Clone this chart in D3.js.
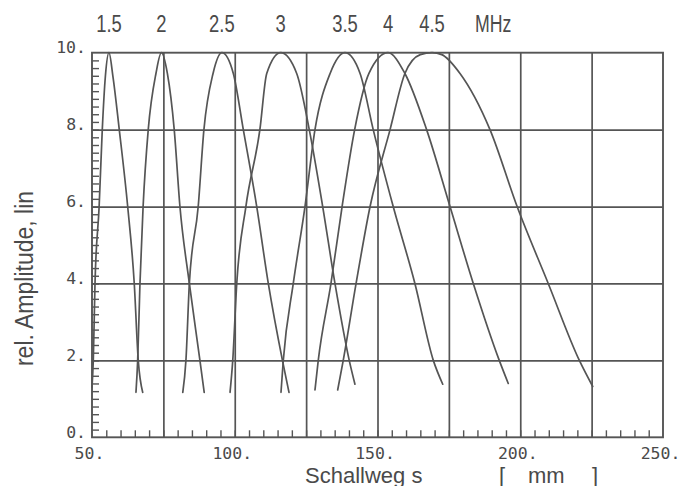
<!DOCTYPE html>
<html><head><meta charset="utf-8">
<script src="https://cdn.jsdelivr.net/npm/d3@7/dist/d3.min.js"></script>
<style>body{margin:0;background:#fff}svg{display:block}</style>
</head><body><svg id="chart" width="680" height="486"></svg>
<script>
// ---- data ----
const freqLabels = ["1.5", "2", "2.5", "3", "3.5", "4", "4.5"];
const unitLabel = "MHz";
const xTickValues = [50, 100, 150, 200, 250];
const xTickLabels = ["50.", "100.", "150.", "200.", "250."];
const yTickValues = [0, 2, 4, 6, 8, 10];
const yTickLabels = ["0.", "2.", "4.", "6.", "8.", "10."];
const yTitle = "rel. Amplitude, lin";
const xTitleParts = ["Schallweg s", "[", "mm", "]"];

// [Schallweg s in mm, rel. amplitude]
const s1_5 = [[50.0,1.3],[50.45,2.0],[51.05,4.0],[52.5,6.0],[53.6,8.0],[54.7,9.4],[55.95,10.0],[57.3,9.4],[59.55,8.0],[62.5,6.0],[64.8,4.0],[66.2,2.0],[67.75,1.17]];
const s2   = [[65.4,1.17],[66.0,2.0],[66.8,4.0],[67.9,6.0],[69.7,8.0],[72.4,9.46],[74.3,10.0],[76.4,9.46],[78.8,8.0],[80.8,6.0],[84.1,4.0],[87.8,2.0],[89.3,1.17]];
const s2_5 = [[81.8,1.17],[82.9,2.0],[84.1,4.0],[87.2,6.0],[89.2,8.0],[92.4,9.46],[95.5,10.0],[99.5,9.46],[103.0,8.0],[107.7,6.0],[111.75,4.0],[116.7,2.0],[119.0,1.17]];
const s3   = [[98.35,1.17],[99.3,2.0],[100.7,4.0],[103.9,6.0],[108.8,8.0],[111.2,9.46],[116.1,10.0],[121.7,9.46],[126.1,8.0],[130.8,6.0],[135.1,4.0],[140.1,2.0],[142.1,1.38]];
const s3_5 = [[116.2,1.17],[117.0,2.0],[120.5,4.0],[124.6,6.0],[128.1,8.0],[133.4,9.46],[138.6,10.0],[143.9,9.46],[148.5,8.0],[155.5,6.0],[163.1,4.0],[169.55,2.0],[172.85,1.38]];
const s4   = [[128.1,1.23],[129.25,2.0],[133.7,4.0],[137.6,6.0],[142.0,8.0],[147.0,9.46],[153.7,10.0],[159.6,9.46],[167.2,8.0],[175.4,6.0],[183.55,4.0],[192.65,2.0],[195.8,1.4]];
const s4_5 = [[136.05,1.23],[138.0,2.0],[142.5,4.0],[147.4,6.0],[154.4,8.0],[159.6,9.46],[165.0,9.95],[169.1,10.0],[172.5,9.95],[178.9,9.46],[189.4,8.0],[198.9,6.0],[209.8,4.0],[220.7,2.0],[225.4,1.32]];
const series = [s1_5, s2, s2_5, s3, s3_5, s4, s4_5];

// ---- layout ----
const L = 92, R = 663, T = 52.7, B = 437.3;
const ink = "#555";
const textInk = "#4a4a4a";
const x = d3.scaleLinear().domain([50, 250]).range([L, R]);
const y = d3.scaleLinear().domain([0, 10]).range([B, T]);
const svg = d3.select("#chart");
svg.append("rect").attr("width", 680).attr("height", 486).attr("fill", "#fff");

function styleAxis(g, w) {
  g.select(".domain").remove();
  g.selectAll("line").attr("stroke", ink).attr("stroke-width", w);
}

// grid lines
svg.append("g").attr("transform", `translate(0,${B})`)
  .call(d3.axisTop(x).tickValues(d3.range(75, 250, 25)).tickSize(B - T).tickFormat(""))
  .call(g => styleAxis(g, 1.7));
svg.append("g").attr("transform", `translate(${L},0)`)
  .call(d3.axisRight(y).tickValues([2, 4, 6, 8]).tickSize(R - L).tickFormat(""))
  .call(g => styleAxis(g, 1.7));

// minor ticks
svg.append("g").attr("transform", `translate(0,${B})`)
  .call(d3.axisTop(x).tickValues(d3.range(55, 250, 5)).tickSize(7).tickFormat(""))
  .call(g => styleAxis(g, 1.4));
svg.append("g").attr("transform", `translate(${L},0)`)
  .call(d3.axisRight(y).tickValues(d3.range(1, 50).map(i => i / 5)).tickSize(7).tickFormat(""))
  .call(g => styleAxis(g, 1.4));

// frame
svg.append("rect").attr("x", L).attr("y", T).attr("width", R - L).attr("height", B - T)
  .attr("fill", "none").attr("stroke", ink).attr("stroke-width", 1.9);

// tick labels
const monoFont = "'DejaVu Sans Mono', 'Liberation Mono', monospace";
svg.append("g").attr("transform", `translate(${L},0)`)
  .call(d3.axisLeft(y).tickValues(yTickValues).tickSize(0).tickPadding(6).tickFormat((d, i) => yTickLabels[i]))
  .call(g => {
    g.select(".domain").remove();
    g.selectAll("text").attr("dy", "0").attr("fill", textInk)
      .attr("font-family", monoFont).attr("font-size", 16.5);
  });
svg.append("g").attr("transform", `translate(0,${B})`)
  .call(d3.axisBottom(x).tickValues(xTickValues).tickSize(0).tickFormat((d, i) => xTickLabels[i]))
  .call(g => {
    g.select(".domain").remove();
    g.selectAll("text").attr("y", 21.5).attr("dy", "0").attr("dx", -3).attr("fill", textInk)
      .attr("font-family", monoFont).attr("font-size", 16.5);
  });

// curves
const line = d3.line().x(d => x(d[0])).y(d => y(d[1])).curve(d3.curveMonotoneX);
svg.append("g").selectAll("path").data(series).join("path")
  .attr("d", line).attr("fill", "none").attr("stroke", ink).attr("stroke-width", 1.7)
  .attr("stroke-linejoin", "round").attr("stroke-linecap", "round");

// condensed sans text helper
const sansFont = "'Liberation Sans', Arial, sans-serif";
function condense(sel, f) {
  sel.each(function () {
    const w = this.getComputedTextLength();
    d3.select(this).attr("textLength", w * f).attr("lengthAdjust", "spacingAndGlyphs");
  });
}

// frequency labels above peaks
const peaks = series.map(s => s.reduce((a, b) => (b[1] > a[1] ? b : a)));
svg.append("g").selectAll("text").data(freqLabels).join("text")
  .attr("x", (d, i) => x(peaks[i][0])).attr("y", 32)
  .attr("text-anchor", "middle").attr("font-family", sansFont).attr("font-size", 23)
  .attr("fill", textInk).text(d => d).call(condense, 0.8);
svg.append("text").attr("x", x(190.5)).attr("y", 32).attr("text-anchor", "middle")
  .attr("font-family", sansFont).attr("font-size", 23).attr("fill", textInk).text(unitLabel)
  .call(condense, 0.77);

// axis titles
svg.append("text").attr("transform", `translate(33,${278.5}) rotate(-90)`)
  .attr("text-anchor", "middle").attr("font-family", sansFont).attr("font-size", 25)
  .attr("fill", textInk).text(yTitle).call(condense, 0.92);

const xt = svg.append("text").attr("y", 482.5).attr("font-family", sansFont).attr("font-size", 22).attr("fill", textInk);
xt.append("tspan").attr("x", 305).text(xTitleParts[0]).call(condense, 1.0);
xt.append("tspan").attr("x", 499).text(xTitleParts[1]);
xt.append("tspan").attr("x", 528).text(xTitleParts[2]);
xt.append("tspan").attr("x", 592).text(xTitleParts[3]);
</script>
</body></html>
